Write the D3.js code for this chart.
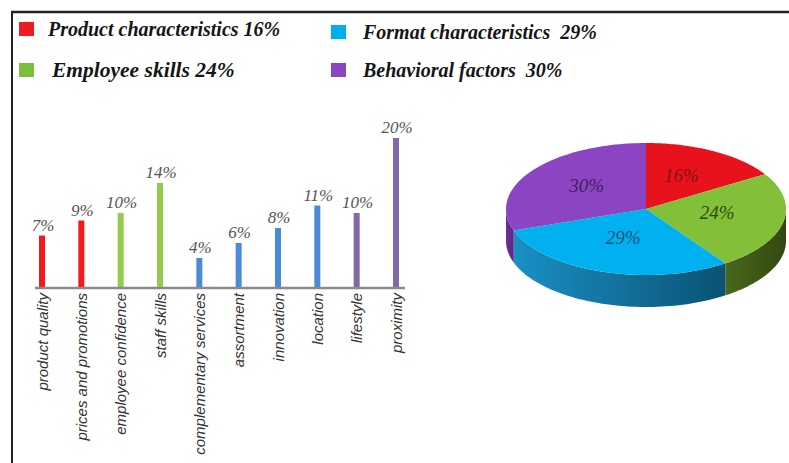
<!DOCTYPE html>
<html>
<head>
<meta charset="utf-8">
<script src="https://cdn.jsdelivr.net/npm/d3@7"></script>
<style>
  body { margin: 0; background: #fff; }
  svg { display: block; }
</style>
</head>
<body>
<script>
// constants
const w = 789;
const h = 463;

// data
const legendNames = ["Product characteristics", "Format characteristics", "Employee skills", "Behavioral factors"];
const legendValues = [16, 29, 24, 30];

const barCategories = ["product quality", "prices and promotions", "employee confidence", "staff skills",
  "complementary services", "assortment", "innovation", "location", "lifestyle", "proximity"];
const barValues = [7, 9, 10, 14, 4, 6, 8, 11, 10, 20];
const barGroups = ["product", "product", "employee", "employee", "format", "format", "format", "format", "behavior", "behavior"];

const pieNames = ["Product characteristics", "Employee skills", "Format characteristics", "Behavioral factors"];
const pieValues = [16, 24, 29, 30];

// colours
const barColor = {product: "#f01c1c", employee: "#8fcd4a", format: "#4a8bd9", behavior: "#8466aa"};
const legendColor = {"Product characteristics": "#ee1b22", "Format characteristics": "#00aeef",
  "Employee skills": "#79bf3b", "Behavioral factors": "#8a46c2"};
const topColor = {"Product characteristics": "#e8121c", "Employee skills": "#82c03a",
  "Format characteristics": "#00b0ef", "Behavioral factors": "#8b45c3"};
const sideColor = {"Product characteristics": ["#a80d12", "#7a0a0d"], "Employee skills": ["#48681c", "#33480f"],
  "Format characteristics": ["#1a90c4", "#0a5275"], "Behavioral factors": ["#6c3198", "#5a2782"]};
const labelColor = {"Product characteristics": "#8a1010", "Employee skills": "#2e4a10",
  "Format characteristics": "#1d4f7a", "Behavioral factors": "#3e1f60"};

const svg = d3.select("body").append("svg")
  .attr("width", w)
  .attr("height", h);

// frame
svg.append("line").attr("x1", 11).attr("x2", w).attr("y1", 12).attr("y2", 12)
  .attr("stroke", "#222").attr("stroke-width", 2.5);
svg.append("line").attr("x1", 12).attr("x2", 12).attr("y1", 11).attr("y2", h)
  .attr("stroke", "#222").attr("stroke-width", 2);

// legend
const legendPos = [[19, 22], [331, 25], [19, 63], [331, 63]];
const legend = svg.append("g");
legendNames.forEach((name, i) => {
  const [lx, ly] = legendPos[i];
  legend.append("rect").attr("x", lx).attr("y", ly).attr("width", 15).attr("height", 14)
    .attr("fill", legendColor[name]);
  legend.append("text")
    .attr("x", lx + (i === 2 ? 33 : i % 2 ? 32 : 29))
    .attr("y", ly + 14)
    .attr("font-family", "Liberation Serif, Times New Roman, serif")
    .attr("font-style", "italic")
    .attr("font-weight", "bold")
    .attr("font-size", i === 2 ? 21.5 : 20)
    .attr("fill", "#151515")
    .style("white-space", "pre")
    .text(name + (i % 2 ? "  " : " ") + legendValues[i] + "%");
});

// bar chart
const xScale = d3.scalePoint()
  .domain(barCategories)
  .range([42, 396]);

const yScale = d3.scaleLinear()
  .domain([0, 20])
  .range([288, 138]);

svg.selectAll("rect.bar")
  .data(barValues)
  .enter()
  .append("rect")
  .attr("class", "bar")
  .attr("x", (d, i) => xScale(barCategories[i]) - 3)
  .attr("y", d => yScale(d))
  .attr("width", 6)
  .attr("height", d => yScale(0) - yScale(d))
  .attr("fill", (d, i) => barColor[barGroups[i]]);

svg.selectAll("text.val")
  .data(barValues)
  .enter()
  .append("text")
  .attr("class", "val")
  .attr("x", (d, i) => xScale(barCategories[i]) + 1)
  .attr("y", d => yScale(d) - 5)
  .attr("text-anchor", "middle")
  .attr("font-family", "Liberation Serif, Times New Roman, serif")
  .attr("font-style", "italic")
  .attr("font-size", 17)
  .attr("fill", "#555")
  .text(d => d + "%");

const xAxis = d3.axisBottom(xScale).tickSize(0).tickSizeOuter(0);
const xg = svg.append("g")
  .attr("transform", "translate(0," + yScale(0) + ")")
  .call(xAxis);
xg.select(".domain")
  .attr("d", "M35,0H405")
  .attr("stroke", "#8a8a8a")
  .attr("stroke-width", 2.5);
xg.selectAll(".tick text")
  .attr("transform", "rotate(-90)")
  .attr("x", -5)
  .attr("y", 0)
  .attr("dy", "0.35em")
  .attr("text-anchor", "end")
  .attr("font-family", "Liberation Sans, Arial, sans-serif")
  .attr("font-style", "italic")
  .attr("font-size", 15)
  .attr("fill", "#333");

// 3D pie
const cx = 646, cy = 209, rx = 140, ry = 66, depth = 32;
const pt = (a, dy) => [cx + rx * Math.sin(a), cy - ry * Math.cos(a) + (dy || 0)];
const arcPts = (a1, a2, dy) => d3.range(0, 61).map(k => pt(a1 + (a2 - a1) * k / 60, dy));

const slices = d3.pie().sort(null).value(d => d)(pieValues);
const defs = svg.append("defs");
const pieG = svg.append("g");
const line = d3.line();

// side walls (front half only)
slices.forEach((s, i) => {
  const name = pieNames[i];
  const a1 = Math.max(s.startAngle, Math.PI / 2);
  const a2 = Math.min(s.endAngle, 3 * Math.PI / 2);
  if (a1 >= a2) return;
  const gid = "side" + i;
  const grad = defs.append("linearGradient").attr("id", gid)
    .attr("x1", 0).attr("x2", 1).attr("y1", 0).attr("y2", 0);
  grad.append("stop").attr("offset", 0).attr("stop-color", sideColor[name][0]);
  grad.append("stop").attr("offset", 1).attr("stop-color", sideColor[name][1]);
  const pts = arcPts(a1, a2, 0).concat(arcPts(a2, a1, depth));
  pieG.append("path")
    .attr("d", line(pts) + "Z")
    .attr("fill", "url(#" + gid + ")");
});

// top faces
slices.forEach((s, i) => {
  const pts = [[cx, cy]].concat(arcPts(s.startAngle, s.endAngle, 0));
  pieG.append("path")
    .attr("d", line(pts) + "Z")
    .attr("fill", topColor[pieNames[i]]);
});

// pie labels
slices.forEach((s, i) => {
  const mid = (s.startAngle + s.endAngle) / 2;
  const f = 0.52;
  pieG.append("text")
    .attr("x", cx + rx * f * Math.sin(mid))
    .attr("y", cy - ry * f * Math.cos(mid) - 4)
    .attr("dy", "0.35em")
    .attr("text-anchor", "middle")
    .attr("font-family", "Liberation Serif, Times New Roman, serif")
    .attr("font-style", "italic")
    .attr("font-size", 19)
    .attr("fill", labelColor[pieNames[i]])
    .text(s.data + "%");
});
</script>
</body>
</html>
